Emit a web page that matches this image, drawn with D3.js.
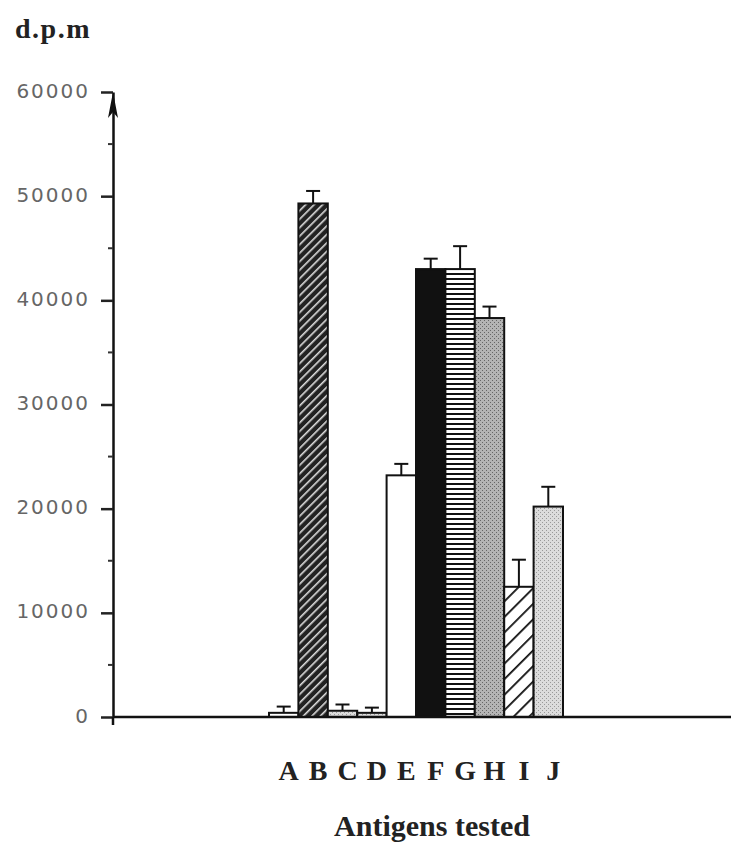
<!DOCTYPE html>
<html>
<head>
<meta charset="utf-8">
<script src="https://cdn.jsdelivr.net/npm/d3@7"></script>
<style>
  body { margin: 0; background: #fff; }
  svg { display: block; }
</style>
</head>
<body>
<script>
// antigens on the x axis, mean d.p.m and error (upper bar only)
let antigens = ['A', 'B', 'C', 'D', 'E', 'F', 'G', 'H', 'I', 'J'];
let dpm = [400, 49300, 600, 400, 23200, 43000, 43000, 38300, 12500, 20200];
let errs = [600, 1200, 600, 500, 1100, 1000, 2200, 1100, 2600, 1900];
let yTicks = [0, 10000, 20000, 30000, 40000, 50000, 60000];

let width = 731, height = 847;

let svg = d3.select('body').append('svg')
    .attr('width', width)
    .attr('height', height);

// fills for each bar
let defs = svg.append('defs');

let p = defs.append('pattern').attr('id', 'dense-diag')
    .attr('patternUnits', 'userSpaceOnUse').attr('width', 6).attr('height', 6)
    .attr('patternTransform', 'rotate(-45)');
p.append('rect').attr('width', 6).attr('height', 6).attr('fill', '#222');
p.append('rect').attr('y', 0).attr('width', 6).attr('height', 1.6).attr('fill', '#ddd');

p = defs.append('pattern').attr('id', 'hstripe')
    .attr('patternUnits', 'userSpaceOnUse').attr('width', 6).attr('height', 5);
p.append('rect').attr('width', 6).attr('height', 5).attr('fill', '#fff');
p.append('rect').attr('y', 3).attr('width', 6).attr('height', 2).attr('fill', '#111');

p = defs.append('pattern').attr('id', 'sparse-diag')
    .attr('patternUnits', 'userSpaceOnUse').attr('width', 11).attr('height', 11)
    .attr('patternTransform', 'rotate(-45)');
p.append('rect').attr('width', 11).attr('height', 11).attr('fill', '#fff');
p.append('rect').attr('width', 11).attr('height', 1.8).attr('fill', '#111');

function stipple(id, bg, dot) {
    let s = defs.append('pattern').attr('id', id)
        .attr('patternUnits', 'userSpaceOnUse').attr('width', 4).attr('height', 4);
    s.append('rect').attr('width', 4).attr('height', 4).attr('fill', bg);
    s.append('rect').attr('x', 0).attr('y', 0).attr('width', 1).attr('height', 1).attr('fill', dot);
    s.append('rect').attr('x', 2).attr('y', 2).attr('width', 1).attr('height', 1).attr('fill', dot);
}
stipple('stip-mid', '#b4b4b4', '#666');
stipple('stip-light', '#dcdcdc', '#999');

let fills = {
    A: '#fff', B: 'url(#dense-diag)', C: 'url(#stip-light)', D: 'url(#stip-light)',
    E: '#fff', F: '#111', G: 'url(#hstripe)', H: 'url(#stip-mid)',
    I: 'url(#sparse-diag)', J: 'url(#stip-light)'
};

let x = d3.scaleBand().domain(antigens).range([269, 563]).padding(0);
let y = d3.scaleLinear().domain([0, 60000]).range([717, 92]);

let data = antigens.map((a, i) => ({name: a, v: dpm[i], e: errs[i]}));

// bars
svg.selectAll('.bar')
    .data(data)
  .enter().append('rect')
    .attr('class', 'bar')
    .attr('x', d => x(d.name))
    .attr('y', d => y(d.v))
    .attr('width', x.bandwidth())
    .attr('height', d => y(0) - y(d.v))
    .attr('fill', d => fills[d.name])
    .attr('stroke', '#111')
    .attr('stroke-width', 2);

// error bars
let eb = svg.selectAll('.err')
    .data(data)
  .enter().append('g')
    .attr('class', 'err')
    .attr('stroke', '#111')
    .attr('stroke-width', 2);
eb.append('line')
    .attr('x1', d => x(d.name) + x.bandwidth() / 2)
    .attr('x2', d => x(d.name) + x.bandwidth() / 2)
    .attr('y1', d => y(d.v))
    .attr('y2', d => y(d.v + d.e));
eb.append('line')
    .attr('x1', d => x(d.name) + x.bandwidth() / 2 - 7)
    .attr('x2', d => x(d.name) + x.bandwidth() / 2 + 7)
    .attr('y1', d => y(d.v + d.e))
    .attr('y2', d => y(d.v + d.e));

// y axis
let yAxis = svg.append('g')
    .attr('transform', 'translate(113,0)')
    .call(d3.axisLeft(y).tickValues(yTicks).tickSize(12).tickSizeOuter(0)
        .tickFormat(d3.format('d')).tickPadding(11));
yAxis.select('.domain').attr('stroke', '#111').attr('stroke-width', 2.5);
yAxis.selectAll('.tick line').attr('stroke', '#222').attr('stroke-width', 2.5);
yAxis.selectAll('.tick text')
    .attr('font-family', 'DejaVu Sans, sans-serif')
    .attr('font-size', 20)
    .attr('letter-spacing', 2)
    .attr('dy', '0.25em')
    .attr('fill', '#666');

// minor ticks
svg.append('g').selectAll('line')
    .data(d3.range(5000, 60000, 10000))
  .enter().append('line')
    .attr('x1', 108).attr('x2', 113)
    .attr('y1', d => y(d)).attr('y2', d => y(d))
    .attr('stroke', '#333').attr('stroke-width', 2);

// arrow head at top of y axis
svg.append('path')
    .attr('d', `M113,${y(60000)} L108,${y(60000) + 26} L113,${y(60000) + 20} L118,${y(60000) + 26} Z`)
    .attr('fill', '#111');

// x axis line
svg.append('line')
    .attr('x1', 113).attr('x2', 731)
    .attr('y1', y(0)).attr('y2', y(0))
    .attr('stroke', '#111').attr('stroke-width', 2.5);
svg.append('line')
    .attr('x1', 113).attr('x2', 113)
    .attr('y1', y(0)).attr('y2', y(0) + 8)
    .attr('stroke', '#111').attr('stroke-width', 2.5);

// category labels
svg.append('g').selectAll('text')
    .data(antigens)
  .enter().append('text')
    .attr('x', d => x(d) + x.bandwidth() / 2 + 5)
    .attr('y', 780)
    .attr('text-anchor', 'middle')
    .attr('font-family', 'Liberation Serif, serif')
    .attr('font-weight', 'bold')
    .attr('font-size', 28)
    .attr('fill', '#222')
    .text(d => d);

svg.append('text')
    .attr('x', 432).attr('y', 836)
    .attr('text-anchor', 'middle')
    .attr('font-family', 'Liberation Serif, serif')
    .attr('font-weight', 'bold')
    .attr('font-size', 30)
    .attr('fill', '#222')
    .text('Antigens tested');

svg.append('text')
    .attr('x', 15).attr('y', 38)
    .attr('font-family', 'Liberation Serif, serif')
    .attr('font-weight', 'bold')
    .attr('font-size', 28)
    .attr('letter-spacing', 1.5)
    .attr('fill', '#222')
    .text('d.p.m');
</script>
</body>
</html>
